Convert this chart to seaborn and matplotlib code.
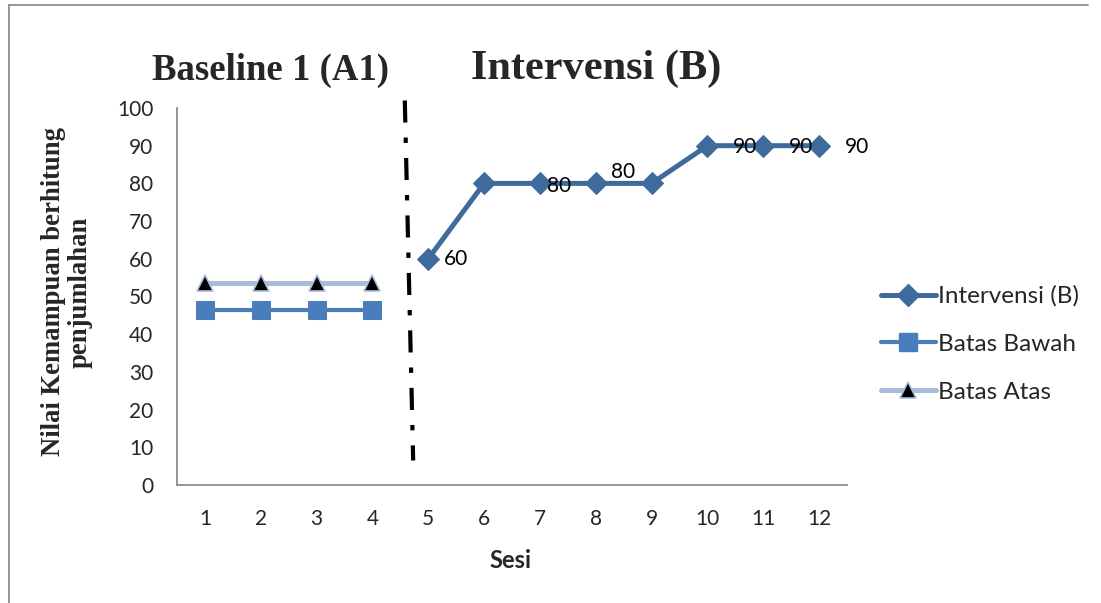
import matplotlib
matplotlib.use("Agg")
import matplotlib.pyplot as plt
import seaborn as sns
import pandas as pd
from matplotlib.lines import Line2D

# ---- data ----
sesi = list(range(1, 13))
baseline_sesi = [1, 2, 3, 4]
batas_bawah = [46.3, 46.3, 46.3, 46.3]
batas_atas = [53.6, 53.6, 53.6, 53.6]
intervensi_sesi = [5, 6, 7, 8, 9, 10, 11, 12]
intervensi = [60, 80, 80, 80, 80, 90, 90, 90]
labelled_sesi = [5, 7, 8, 10, 11, 12]
labelled_vals = [60, 80, 80, 90, 90, 90]
label_offsets = [(20, 0), (14, -2), (20, 8), (27, -1), (27, -1), (27, -1)]
y_ticks = [0, 10, 20, 30, 40, 50, 60, 70, 80, 90, 100]

W, H = 1101, 603
sns.set_theme(style="white")
plt.rcParams['font.family'] = ['Lato', 'DejaVu Sans']

fig = plt.figure(figsize=(W / 100, H / 100), dpi=100)
ax = fig.add_axes([177 / W, 1 - 485 / H, (847 - 177) / W, (485 - 108) / H])

c_int = "#3f6a9c"
c_bawah = "#4a7ebb"
c_atas = "#a9bcda"

df_b = pd.DataFrame({"Sesi": baseline_sesi, "Nilai": batas_bawah})
df_a = pd.DataFrame({"Sesi": baseline_sesi, "Nilai": batas_atas})
df_i = pd.DataFrame({"Sesi": intervensi_sesi, "Nilai": intervensi})

sns.lineplot(data=df_a, x="Sesi", y="Nilai", ax=ax, color=c_atas, lw=3.6,
             marker="^", markersize=12, markerfacecolor="black",
             markeredgecolor=c_atas, markeredgewidth=1.2, zorder=3)
sns.lineplot(data=df_b, x="Sesi", y="Nilai", ax=ax, color=c_bawah, lw=3,
             marker="s", markersize=13, markerfacecolor=c_bawah,
             markeredgecolor=c_bawah, zorder=3)
sns.lineplot(data=df_i, x="Sesi", y="Nilai", ax=ax, color=c_int, lw=3.6,
             marker="D", markersize=11, markerfacecolor=c_int,
             markeredgecolor=c_int, zorder=3)

for s, v, off in zip(labelled_sesi, labelled_vals, label_offsets):
    ax.annotate(str(v), (s, v), xytext=off, textcoords="offset points",
                ha="center", va="center", fontsize=15, color="black", zorder=5)

# phase divider (dash-dot, slightly slanted)
ax.plot([4.58, 4.73], [102, 6.5], color="black", lw=3,
        linestyle=(0, (5.3, 3.6, 1.3, 3.6)), clip_on=False, zorder=4,
        solid_capstyle="butt", dash_capstyle="butt")

ax.set_xlim(0.5, 12.5)
ax.set_ylim(0, 100)
ax.set_xticks(sesi)
ax.set_xticklabels([str(s) for s in sesi])
ax.set_yticks(y_ticks)
ax.tick_params(axis="x", length=0, pad=17, labelsize=15)
ax.tick_params(axis="y", length=0, pad=17, labelsize=15)
for sp in ["top", "right"]:
    ax.spines[sp].set_visible(False)
for sp in ["left", "bottom"]:
    ax.spines[sp].set_color("#8c8c8c")
    ax.spines[sp].set_linewidth(1.3)
ax.set_xlabel("")
ax.set_ylabel("")

fig.text(510 / W, 1 - 560 / H, "Sesi", ha="center", va="center",
         fontsize=17, fontweight="bold")
fig.text(67 / W, 1 - 292 / H, "Nilai Kemampuan berhitung\npenjumlahan",
         ha="center", va="center", rotation=90, fontsize=19.2,
         fontweight="bold", family="Liberation Serif", linespacing=1.1)
fig.text(270 / W, 1 - 70 / H, "Baseline 1 (A1)", ha="center", va="center",
         fontsize=26.5, fontweight="bold", family="Liberation Serif")
fig.text(596 / W, 1 - 69 / H, "Intervensi (B)", ha="center", va="center",
         fontsize=30.5, fontweight="bold", family="Liberation Serif")

handles = [
    Line2D([], [], color=c_int, lw=3.6, marker="D", markersize=11,
           markerfacecolor=c_int, markeredgecolor=c_int),
    Line2D([], [], color=c_bawah, lw=3, marker="s", markersize=13,
           markerfacecolor=c_bawah, markeredgecolor=c_bawah),
    Line2D([], [], color=c_atas, lw=3.6, marker="^", markersize=12,
           markerfacecolor="black", markeredgecolor=c_atas, markeredgewidth=1.2),
]
fig.legend(handles, ["Intervensi (B)", "Batas Bawah", "Batas Atas"],
           loc="center left", bbox_to_anchor=(881 / W, 1 - 344 / H),
           frameon=False, fontsize=17.5, handlelength=2.25, handletextpad=0.1,
           labelspacing=1.1, borderaxespad=0, borderpad=0)

# outer chart border (top and left visible)
fig.add_artist(Line2D([9 / W, 9 / W], [0, 1 - 5 / H], color="#8c8c8c", lw=1.3,
                      transform=fig.transFigure))
fig.add_artist(Line2D([9 / W, 1088 / W], [1 - 5 / H, 1 - 5 / H], color="#8c8c8c",
                      lw=1.3, transform=fig.transFigure))

fig.savefig("out.png", dpi=100)
